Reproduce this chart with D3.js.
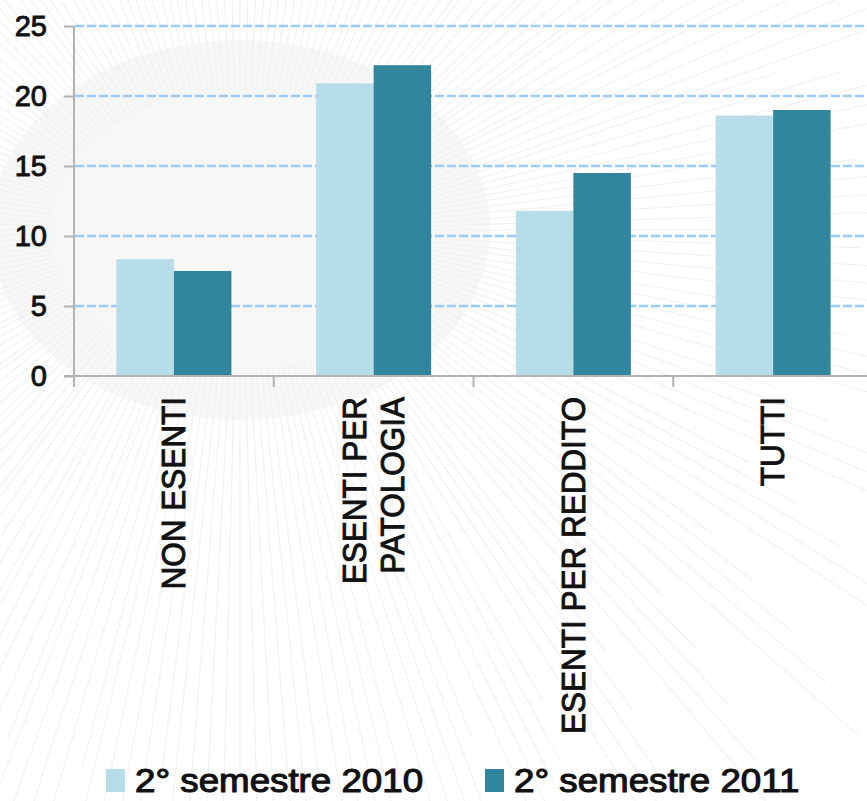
<!DOCTYPE html>
<html>
<head>
<meta charset="utf-8">
<script src="https://cdn.jsdelivr.net/npm/d3@7"></script>
<style>
  html, body { margin: 0; padding: 0; background: #fff; }
  svg { display: block; }
  text { font-family: "Liberation Sans", Arial, sans-serif; fill: #111; }
</style>
</head>
<body>
<svg id="chart" width="867" height="801"></svg>
<script>
// Categories, wrapped label lines and the two series
const categories = ["NON ESENTI", "ESENTI PER PATOLOGIA", "ESENTI PER REDDITO", "TUTTI"];
const categoryLines = [["NON ESENTI"], ["ESENTI PER", "PATOLOGIA"], ["ESENTI PER REDDITO"], ["TUTTI"]];
const seriesNames = ["2° semestre 2010", "2° semestre 2011"];
const values2010 = [8.35, 20.9, 11.8, 18.6];
const values2011 = [7.5, 22.2, 14.5, 19.0];
const yTicks = [0, 5, 10, 15, 20, 25];
const colors = ["#B7DDE8", "#31859C"];

const W = 867, H = 801;
const plot = { left: 74, top: 26, bottom: 376, right: 873 };
const svg = d3.select("#chart");

// Faint watermark texture in the background
const bg = svg.append("g").attr("class", "watermark");
bg.append("ellipse").attr("cx", 240).attr("cy", 230).attr("rx", 250).attr("ry", 190)
  .attr("fill", "#f7f7f7");
const rays = d3.range(0, 220);
bg.selectAll("line.ray").data(rays).join("line")
  .attr("class", "ray")
  .attr("x1", i => 240 + 190 * Math.cos(i / 220 * 2 * Math.PI))
  .attr("y1", i => 230 + 140 * Math.sin(i / 220 * 2 * Math.PI))
  .attr("x2", i => 240 + (560 + (i % 5) * 60) * Math.cos(i / 220 * 2 * Math.PI))
  .attr("y2", i => 230 + (560 + (i % 5) * 60) * Math.sin(i / 220 * 2 * Math.PI))
  .attr("stroke", "#f1f1f1")
  .attr("stroke-width", 1.2);

// Scales
const x0 = d3.scaleBand().domain(categories).range([plot.left, plot.right]).paddingInner(0).paddingOuter(0);
const x1 = d3.scaleBand().domain(seriesNames).range([0, x0.bandwidth()]).paddingInner(0).paddingOuter(0.737);
const y = d3.scaleLinear().domain([0, 25]).range([plot.bottom, plot.top]);

// Dashed gridlines
svg.append("g").selectAll("line").data(yTicks.filter(t => t > 0)).join("line")
  .attr("x1", plot.left + 1).attr("x2", W)
  .attr("y1", d => y(d)).attr("y2", d => y(d))
  .attr("stroke", "#9ACBFA").attr("stroke-width", 2.6)
  .attr("stroke-dasharray", "9,3");

// Bars
const groups = svg.append("g").selectAll("g").data(categories).join("g")
  .attr("transform", d => `translate(${x0(d)},0)`);
groups.selectAll("rect").data((d, i) => [
    { s: seriesNames[0], v: values2010[i], c: colors[0] },
    { s: seriesNames[1], v: values2011[i], c: colors[1] }
  ]).join("rect")
  .attr("x", d => x1(d.s))
  .attr("width", x1.bandwidth())
  .attr("y", d => y(d.v))
  .attr("height", d => y(0) - y(d.v))
  .attr("fill", d => d.c);

// Y axis
const yAxis = d3.axisLeft(y).tickValues(yTicks).tickSize(10).tickPadding(17).tickFormat(d3.format("d"));
const gy = svg.append("g").attr("transform", `translate(${plot.left},0)`).call(yAxis);
gy.select(".domain").attr("stroke", "#B3B3B3").attr("stroke-width", 2)
  .attr("d", `M0,${plot.top}V${plot.bottom + 11}`);
gy.selectAll(".tick line").attr("stroke", "#B3B3B3").attr("stroke-width", 2);
gy.selectAll(".tick text").attr("font-size", 29).attr("fill", "#111")
  .attr("font-family", "Liberation Sans, Arial, sans-serif")
  .attr("stroke", "#111").attr("stroke-width", 0.9);

// X axis: baseline and category separators
const xTickPos = categories.map(c => x0(c)).concat([plot.right]);
const gx = svg.append("g");
gx.append("line").attr("x1", plot.left - 10).attr("x2", W)
  .attr("y1", plot.bottom).attr("y2", plot.bottom)
  .attr("stroke", "#B3B3B3").attr("stroke-width", 2);
gx.selectAll("line.sep").data(xTickPos).join("line").attr("class", "sep")
  .attr("x1", d => d).attr("x2", d => d)
  .attr("y1", plot.bottom).attr("y2", plot.bottom + 11)
  .attr("stroke", "#B3B3B3").attr("stroke-width", 2);

// Rotated category labels
const fs = 31.5, lineH = 37.5, capH = fs * 0.716;
const labels = svg.append("g").selectAll("g").data(categories).join("g")
  .attr("transform", d => `translate(${x0(d) + x0.bandwidth() / 2},397) rotate(-90) scale(1,1.08)`);
labels.each(function (d, i) {
  const lines = categoryLines[i];
  d3.select(this).selectAll("text").data(lines).join("text")
    .attr("text-anchor", "end")
    .attr("x", 0)
    .attr("y", (l, j) => ((j - (lines.length - 1) / 2) * lineH + capH / 2) / 1.08)
    .attr("font-size", fs)
    .attr("stroke", "#111").attr("stroke-width", 0.9)
    .text(l => l);
});

// Legend
const legend = svg.append("g");
const legendX = [106, 485];
seriesNames.forEach((name, i) => {
  legend.append("rect").attr("x", legendX[i]).attr("y", 769).attr("width", 19).attr("height", 23)
    .attr("fill", colors[i]);
  legend.append("text").attr("x", 0).attr("y", 0)
    .attr("transform", `translate(${legendX[i] + 29},792) scale(1.13,1.02)`)
    .attr("font-size", 32.5)
    .attr("stroke", "#111").attr("stroke-width", 1.1)
    .text(name);
});
</script>
</body>
</html>
